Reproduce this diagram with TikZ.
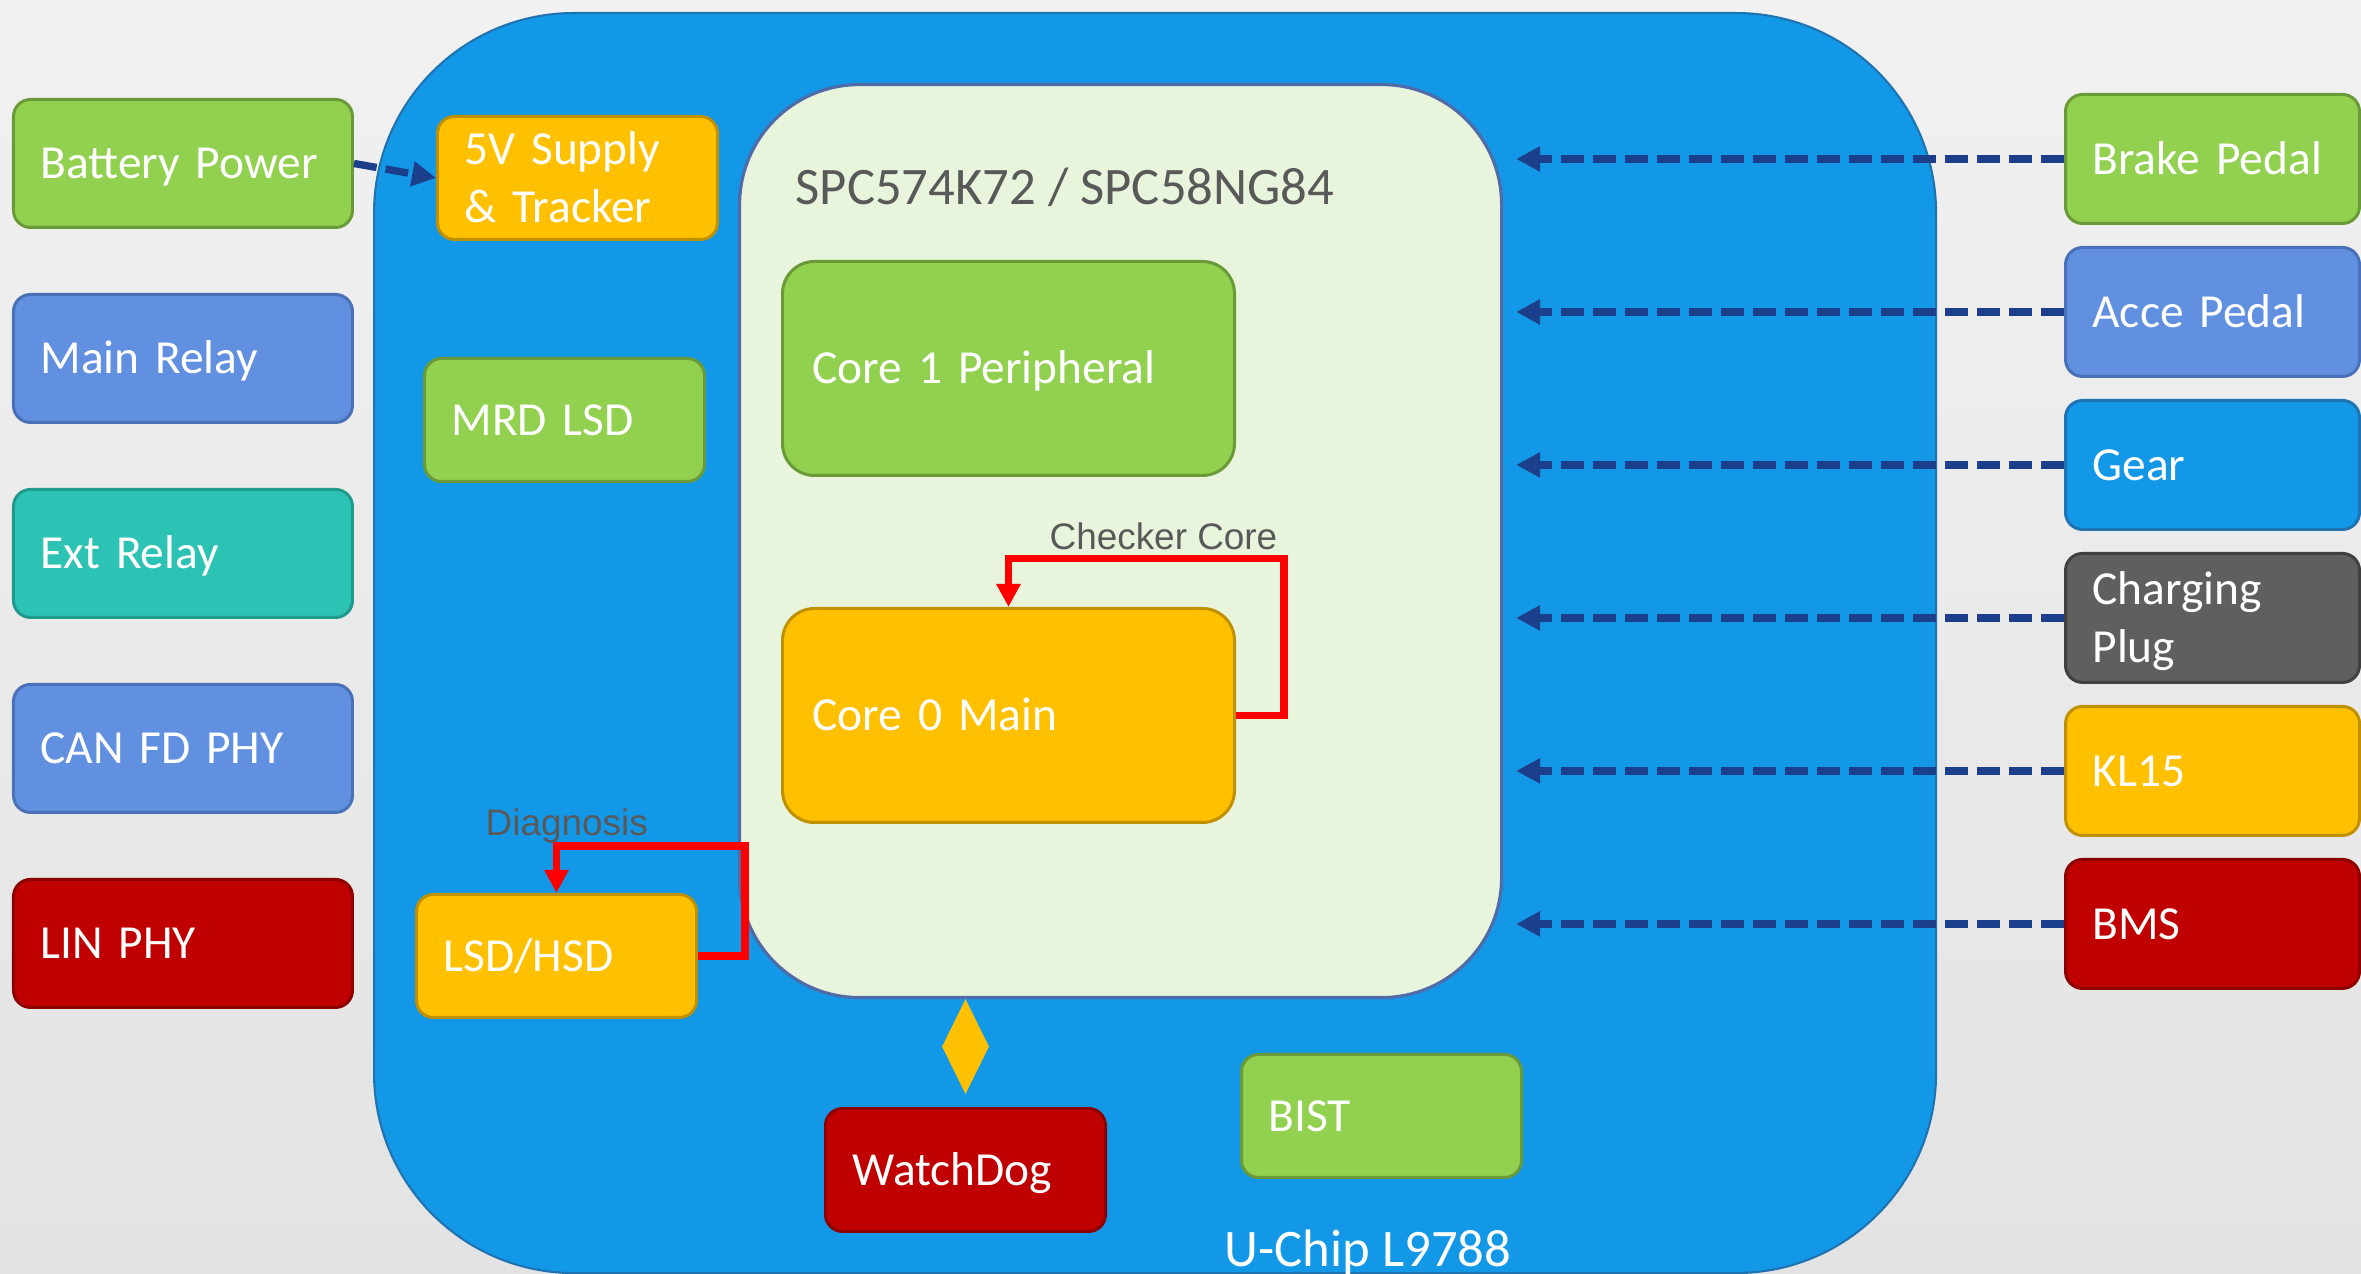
\documentclass[tikz,border=0pt]{standalone}
\usepackage{fontspec}
\setmainfont{Carlito}
\newfontfamily\lblfont{Liberation Sans}
\usetikzlibrary{arrows.meta,positioning,calc}
\definecolor{bgT}{HTML}{F1F1F1}
\definecolor{bgB}{HTML}{E3E3E3}
\definecolor{grnF}{HTML}{92D050}
\definecolor{grnD}{HTML}{6A9A38}
\definecolor{bluF}{HTML}{6290E0}
\definecolor{bluD}{HTML}{4A70B8}
\definecolor{teaF}{HTML}{2CC3B4}
\definecolor{teaD}{HTML}{209A8D}
\definecolor{crdF}{HTML}{C00000}
\definecolor{crdD}{HTML}{8C0000}
\definecolor{yelF}{HTML}{FFC000}
\definecolor{yelD}{HTML}{BF9000}
\definecolor{gryF}{HTML}{5F5F5F}
\definecolor{gryD}{HTML}{404040}
\definecolor{skyF}{HTML}{1398E8}
\definecolor{skyD}{HTML}{1F73B0}
\definecolor{mcuF}{HTML}{E8F5DC}
\definecolor{mcuD}{HTML}{4F6BA8}
\definecolor{sigC}{HTML}{1C3F8C}
\definecolor{txtG}{HTML}{595959}
\tikzset{
  blk/.style={rounded corners=1.7mm,line width=.85pt,text=white,align=left,
              inner xsep=2.7mm,inner ysep=0pt,minimum height=1.23cm,
              text height=3.06mm,text depth=0pt,
              font=\fontsize{13.5}{16.5}\selectfont},
  grn/.style={blk,draw=grnD,fill=grnF},
  blu/.style={blk,draw=bluD,fill=bluF},
  tea/.style={blk,draw=teaD,fill=teaF},
  crd/.style={blk,draw=crdD,fill=crdF},
  yel/.style={blk,draw=yelD,fill=yelF},
  gry/.style={blk,draw=gryD,fill=gryF},
  sky/.style={blk,draw=skyD,fill=skyF},
  lcol/.style={text width=2.85cm,minimum height=1.28cm},
  rcol/.style={text width=2.40cm,minimum height=1.29cm},
  inb/.style ={text width=2.26cm},
  core/.style={rounded corners=3.2mm,inner xsep=3mm,text width=3.92cm,minimum height=2.14cm},
  two/.style ={text depth=5.8mm},
  lbl/.style ={font=\lblfont\fontsize{10.5}{12}\selectfont,text=txtG,inner sep=0pt},
  sig/.style ={draw=sigC,line width=2.1pt,dash pattern=on 2.3mm off 0.9mm,
               -{Triangle[length=2.4mm,width=2.4mm]}},
  chkl/.style={draw=red,line width=2pt,line join=miter,
               -{Triangle[length=2.3mm,width=2.3mm]}},
  wdl/.style ={draw=yelF,fill=yelF,line width=.4pt,
               {Triangle[length=4.8mm,width=4.7mm]}-{Triangle[length=4.8mm,width=4.7mm]}},
}
\begin{document}
\begin{tikzpicture}[node distance=0.64cm]
  \useasboundingbox (0,0) rectangle (23.61,-12.74);
  \shade[top color=bgT,bottom color=bgB] (0,0) rectangle (23.61,-12.74);
  % chip and MCU
  \node[draw=skyD,fill=skyF,line width=.6pt,rounded corners=2cm,anchor=north west,
        minimum width=15.62cm,minimum height=12.6cm] (uchip) at (3.73,-0.12) {};
  \node[draw=mcuD,fill=mcuF,line width=.9pt,rounded corners=1.2cm,anchor=north west,
        minimum width=7.62cm,minimum height=9.13cm] (spc) at (7.38,-0.83) {};
  \node[anchor=base west,inner sep=0pt,text=txtG,font=\fontsize{15}{18}\selectfont]
        (spct) at (7.95,-2.05) {SPC574K72 / SPC58NG84};
  \node[anchor=base west,inner sep=0pt,text=white,font=\fontsize{15}{18}\selectfont]
        (ucht) at (12.24,-12.66) {U-Chip L9788};
  % left side
  \node[grn,lcol,anchor=north west] (bat) at (0.12,-0.98) {Battery Power};
  \node[blu,lcol,below=of bat]  (mrel) {Main Relay};
  \node[tea,lcol,below=of mrel] (erel) {Ext Relay};
  \node[blu,lcol,below=of erel] (can)  {CAN FD PHY};
  \node[crd,lcol,below=of can]  (lin)  {LIN PHY};
  % right side
  \node[grn,rcol,anchor=north west] (brk) at (20.64,-0.93) {Brake Pedal};
  \node[blu,rcol,below=0.21cm of brk]  (acc)  {Acce Pedal};
  \node[sky,rcol,below=0.21cm of acc]  (gear) {Gear};
  \node[gry,rcol,two,below=0.21cm of gear] (chg) {Charging\\Plug};
  \node[yel,rcol,below=0.21cm of chg]  (kl)   {KL15};
  \node[crd,rcol,below=0.21cm of kl]   (bms)  {BMS};
  % inside the chip
  \node[yel,inb,two,anchor=north west] (sup) at (4.36,-1.15) {5V Supply\\\& Tracker};
  \node[grn,inb,anchor=north west] (mrd)  at (4.23,-3.57)  {MRD LSD};
  \node[yel,inb,anchor=north west] (lsd)  at (4.15,-8.93)  {LSD/HSD};
  \node[crd,inb,anchor=north west] (wd)   at (8.24,-11.07) {WatchDog};
  \node[grn,inb,anchor=north west] (bist) at (12.40,-10.53) {BIST};
  \node[grn,core,anchor=north west] (core1) at (7.81,-2.60) {Core 1 Peripheral};
  \node[yel,core,below=1.30cm of core1] (core0) {Core 0 Main};
  \node[lbl,anchor=base east] (chkt) at (12.78,-5.50) {Checker Core};
  \node[lbl,anchor=base west] (dgt)  at (4.85,-8.36)  {Diagnosis};
  % connectors
  \draw[sig] (bat.east) -- (sup.west);
  \foreach \n in {brk,acc,gear,chg,kl,bms}
    \draw[sig] (\n.west) -- ([xshift=1.3mm]\n.west -| spc.east);
  \draw[chkl] (core0.east) -- ++(0.48,0) |- ([yshift=4.8mm]core0.north) -- (core0.north);
  \draw[chkl] (lsd.east) -- ++(0.47,0) |- ([yshift=4.7mm]lsd.north) -- (lsd.north);
  \draw[wdl] ([yshift=1.3mm]wd.north) -- (wd.north |- spc.south);
\end{tikzpicture}
\end{document}
